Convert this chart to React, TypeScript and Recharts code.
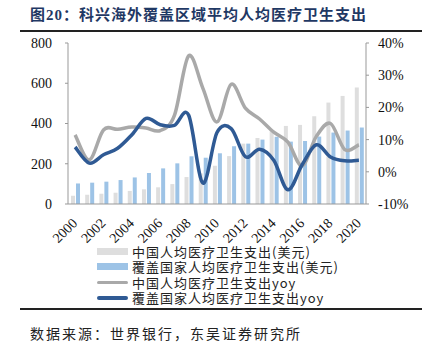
import React from 'react';
import { ComposedChart, Bar, Line, XAxis, YAxis } from 'recharts';

const years = ['2000', '2001', '2002', '2003', '2004', '2005', '2006', '2007', '2008', '2009', '2010',
  '2011', '2012', '2013', '2014', '2015', '2016', '2017', '2018', '2019', '2020'];
// 中国人均医疗卫生支出（美元）
const chinaSpend = [41, 46, 51, 56, 65, 73, 83, 99, 134, 152, 190, 238, 300, 328, 362, 388, 393, 436, 504, 537, 579];
// 覆盖国家人均医疗卫生支出（美元）
const coverSpend = [102, 106, 111, 119, 132, 154, 177, 202, 237, 230, 252, 287, 300, 320, 334, 310, 313, 335, 355, 365, 380];
// yoy, %
const chinaYoy = [11.5, 3.7, 13.0, 13.2, 13.9, 13.6, 12.8, 17.5, 36.0, 26.0, 15.5, 27.2, 19.8, 16.4, 12.3, 9.2, 1.9, 11.0, 15.0, 6.9, 8.4];
const coverYoy = [7.7, 2.7, 5.3, 7.3, 11.5, 16.6, 14.6, 14.4, 17.6, -3.5, 12.2, 13.4, 4.7, 7.0, 3.6, -5.6, 2.2, 8.4, 4.6, 3.4, 3.6];

const leftTicks = [0, 200, 400, 600, 800];
const rightTicks = [-10, 0, 10, 20, 30, 40];

const seriesNames = [
  '中国人均医疗卫生支出(美元)',
  '覆盖国家人均医疗卫生支出(美元)',
  '中国人均医疗卫生支出yoy',
  '覆盖国家人均医疗卫生支出yoy',
];

const data = years.map((year, i) => ({
  year,
  chinaSpend: chinaSpend[i],
  coverSpend: coverSpend[i],
  chinaYoy: chinaYoy[i],
  coverYoy: coverYoy[i],
}));

const GRAY_BAR = '#dedede';
const BLUE_BAR = '#9dc3e6';
const GRAY_LINE = '#a9a9a9';
const NAVY_LINE = '#2f5a94';
const AXIS = '#999';
const SERIF = '"Liberation Serif", "Times New Roman", serif';
const CJK = '"Noto Sans CJK SC", "Noto Sans", sans-serif';

// excel-like smoothing (catmull-rom through every point)
function smoothCurve(context: any) {
  let xs: number[] = [];
  let ys: number[] = [];
  return {
    areaStart() {},
    areaEnd() {},
    lineStart() { xs = []; ys = []; },
    point(x: number, y: number) { xs.push(+x); ys.push(+y); },
    lineEnd() {
      const n = xs.length;
      if (!n) return;
      context.moveTo(xs[0], ys[0]);
      for (let i = 0; i < n - 1; i++) {
        const p = Math.max(i - 1, 0);
        const q = Math.min(i + 2, n - 1);
        context.bezierCurveTo(
          xs[i] + (xs[i + 1] - xs[p]) / 6, ys[i] + (ys[i + 1] - ys[p]) / 6,
          xs[i + 1] - (xs[q] - xs[i]) / 6, ys[i + 1] - (ys[q] - ys[i]) / 6,
          xs[i + 1], ys[i + 1],
        );
      }
    },
  };
}

const YearTick = (props: any) => {
  const { x, y, payload } = props;
  const ax = x + 3;
  const ay = y + 20;
  return (
    <text x={ax} y={ay} transform={`rotate(-45 ${ax} ${ay})`} textAnchor="end"
      fontSize={14} fontFamily={SERIF} fill="#111">
      {payload.value}
    </text>
  );
};

const legendRow = (kind: 'bar' | 'line', color: string, label: string) => (
  <div key={label} style={{ display: 'flex', alignItems: 'center', height: 15.5 }}>
    <div style={{ width: 31, height: kind === 'bar' ? 7 : 3.5, background: color, borderRadius: kind === 'line' ? 2 : 0 }} />
    <span style={{ marginLeft: 4, fontSize: 13, lineHeight: '15px', letterSpacing: 1, color: '#222', fontFamily: CJK, whiteSpace: 'nowrap' }}>
      {label}
    </span>
  </div>
);

export default function App() {
  return (
    <div style={{ position: 'absolute', left: 0, top: 0, width: 429, height: 346, background: '#fff', overflow: 'hidden' }}>
      <div style={{ position: 'absolute', left: 30, top: 5, fontSize: 15, fontWeight: 'bold', color: '#1f3864',
        letterSpacing: 1, lineHeight: '20px', fontFamily: `"Liberation Serif", ${CJK}`, whiteSpace: 'nowrap' }}>
        图20：科兴海外覆盖区域平均人均医疗卫生支出
      </div>
      <div style={{ position: 'absolute', left: 20, top: 30, width: 402, height: 2, background: '#222' }} />

      <div style={{ position: 'absolute', left: 0, top: 0 }}>
        <ComposedChart width={429} height={250} data={data} barSize={4} barGap={1}
          margin={{ top: 43, right: 0, bottom: 0, left: 0 }}>
          <XAxis dataKey="year" interval={1} tickSize={0} tickMargin={0} tickLine={false}
            axisLine={{ stroke: AXIS }} height={46} tick={<YearTick />} />
          <YAxis yAxisId="left" orientation="left" width={68} domain={[0, 800]} ticks={leftTicks}
            axisLine={{ stroke: AXIS }} tickLine={{ stroke: AXIS }} tickSize={3} tickMargin={13}
            tick={{ fontSize: 14, fontFamily: SERIF, fill: '#111' }} />
          <YAxis yAxisId="right" orientation="right" width={63} domain={[-10, 40]} ticks={rightTicks}
            axisLine={{ stroke: AXIS }} tickLine={{ stroke: AXIS }} tickSize={3} tickMargin={9}
            tickFormatter={(v: number) => `${v}%`}
            tick={{ fontSize: 14, fontFamily: SERIF, fill: '#111' }} />
          <Bar yAxisId="left" dataKey="chinaSpend" name={seriesNames[0]} fill={GRAY_BAR} isAnimationActive={false} />
          <Bar yAxisId="left" dataKey="coverSpend" name={seriesNames[1]} fill={BLUE_BAR} isAnimationActive={false} />
          <Line yAxisId="right" dataKey="chinaYoy" name={seriesNames[2]} type={smoothCurve as any} stroke={GRAY_LINE}
            strokeWidth={3.5} dot={false} activeDot={false} isAnimationActive={false} />
          <Line yAxisId="right" dataKey="coverYoy" name={seriesNames[3]} type={smoothCurve as any} stroke={NAVY_LINE}
            strokeWidth={3.5} dot={false} activeDot={false} isAnimationActive={false} />
        </ComposedChart>
      </div>

      <div style={{ position: 'absolute', left: 97, top: 243.5 }}>
        {legendRow('bar', GRAY_BAR, seriesNames[0])}
        {legendRow('bar', BLUE_BAR, seriesNames[1])}
        {legendRow('line', GRAY_LINE, seriesNames[2])}
        {legendRow('line', NAVY_LINE, seriesNames[3])}
      </div>

      <div style={{ position: 'absolute', left: 20, top: 308, width: 402, height: 2, background: '#222' }} />
      <div style={{ position: 'absolute', left: 30, top: 323, fontSize: 14, letterSpacing: 2, color: '#222',
        fontFamily: CJK, lineHeight: '20px', whiteSpace: 'nowrap' }}>
        数据来源：世界银行，东吴证券研究所
      </div>
    </div>
  );
}
